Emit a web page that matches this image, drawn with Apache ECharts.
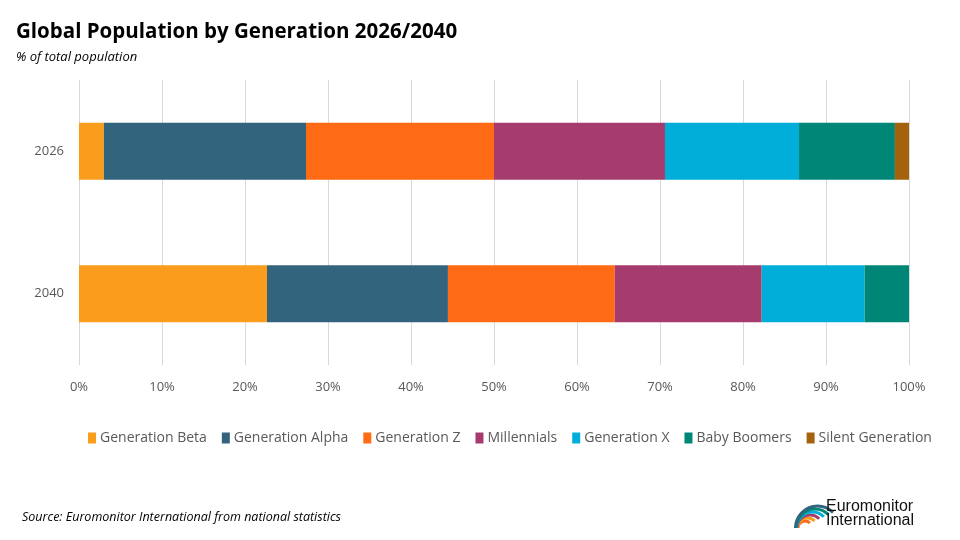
<!DOCTYPE html>
<html lang="en">
<head>
    <meta charset="UTF-8">
    <title>Global Population by Generation</title>
    <script src="https://cdn.jsdelivr.net/npm/echarts@6/dist/echarts.min.js"></script>
    <style>
        html, body { margin: 0; padding: 0; background: #fff; }
        #main { width: 960px; height: 540px; }
    </style>
</head>
<body>
<div id="main"></div>
<script>
    // data (% of total population)
    var years = ['2026', '2040'];
    var generations = ['Generation Beta', 'Generation Alpha', 'Generation Z', 'Millennials', 'Generation X', 'Baby Boomers', 'Silent Generation'];
    var beta = [3.0, 22.65];
    var alpha = [24.35, 21.8];
    var genZ = [22.65, 20.1];
    var millennials = [20.6, 17.7];
    var genX = [16.15, 12.4];
    var boomers = [11.55, 5.35];
    var silent = [1.7, 0];
    var xTicks = [0, 10, 20, 30, 40, 50, 60, 70, 80, 90, 100];

    var colors = ['#fa9d1c', '#33647e', '#ff6a14', '#a63c6e', '#00aed9', '#008677', '#a5620d'];
    var values = [beta, alpha, genZ, millennials, genX, boomers, silent];

    var series = [];
    for (var i = 0; i < generations.length; i++) {
        series.push({
            name: generations[i],
            type: 'bar',
            stack: 'total',
            barCategoryGap: '60%',
            itemStyle: { color: colors[i] },
            emphasis: { disabled: true },
            data: values[i]
        });
    }

    var font = "'Open Sans', 'Noto Sans', sans-serif";
    var myChart = echarts.init(document.getElementById('main'));

    // small logo made of coloured arcs
    var arcColors = ['#ff6a14', '#fa9d1c', '#a63c6e', '#00aed9', '#008677', '#33647e'];
    var logo = [];
    for (var k = 0; k < arcColors.length; k++) {
        logo.push({
            type: 'arc',
            shape: { cx: 805 + k * 2.5, cy: 528, r: 7 + k * 3, startAngle: Math.PI * 1.0, endAngle: Math.PI * 1.75 },
            style: { stroke: arcColors[k], lineWidth: 3, fill: null }
        });
    }

    var option = {
        animation: false,
        backgroundColor: '#fff',
        textStyle: { fontFamily: font },
        title: [
            {
                text: 'Global Population by Generation 2026/2040',
                left: 11, top: 17,
                textStyle: { fontSize: 20.5, fontWeight: 'bold', color: '#000', fontFamily: font }
            },
            {
                text: '% of total population',
                left: 11, top: 46,
                textStyle: { fontSize: 13, fontStyle: 'italic', fontWeight: 'normal', color: '#000', fontFamily: font }
            },
            {
                text: 'Source: Euromonitor International from national statistics',
                left: 17, top: 506,
                textStyle: { fontSize: 12.5, fontStyle: 'italic', fontWeight: 'normal', color: '#000', fontFamily: font }
            },
            {
                text: 'Euromonitor\nInternational',
                left: 821, top: 495,
                textStyle: { fontSize: 16, lineHeight: 14, fontWeight: 'normal', color: '#111', fontFamily: "'Liberation Sans Narrow', 'Liberation Sans', sans-serif" }
            }
        ],
        legend: {
            data: generations,
            bottom: 90,
            left: 83,
            icon: 'rect',
            itemWidth: 8,
            itemHeight: 11,
            itemGap: 15,
            textStyle: { fontSize: 14, color: '#595959', fontFamily: font, padding: [0, 0, 0, -1] }
        },
        grid: {
            left: 79,
            right: 51,
            top: 80,
            height: 285
        },
        xAxis: {
            type: 'value',
            min: xTicks[0],
            max: xTicks[xTicks.length - 1],
            interval: 10,
            axisLine: { show: false },
            axisTick: { show: false },
            axisLabel: { formatter: '{value}%', color: '#595959', fontSize: 13, margin: 16 },
            splitLine: { show: true, lineStyle: { color: '#d9d9d9', width: 1 } }
        },
        yAxis: {
            type: 'category',
            data: years,
            inverse: true,
            axisLine: { show: false },
            axisTick: { show: false },
            axisLabel: { color: '#595959', fontSize: 13, margin: 15 }
        },
        graphic: logo,
        series: series
    };

    myChart.setOption(option);
</script>
</body>
</html>
